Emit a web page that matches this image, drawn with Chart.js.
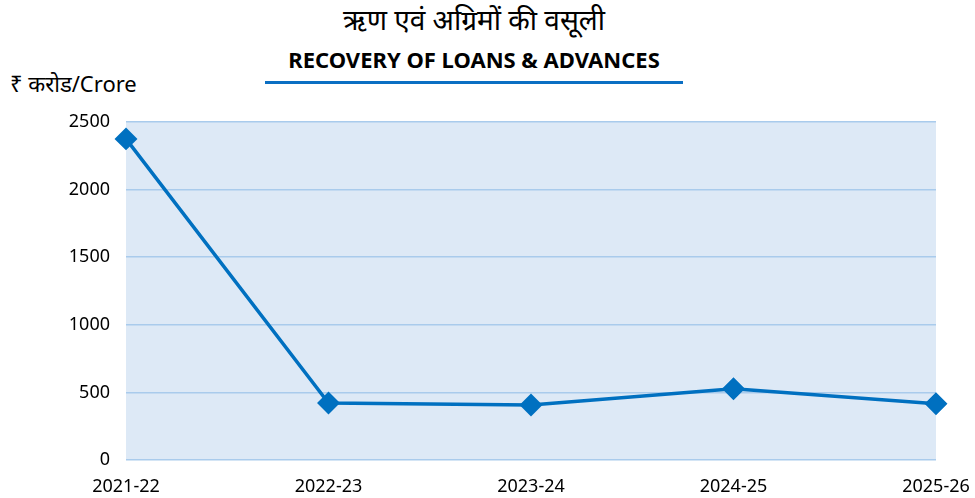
<!DOCTYPE html>
<html>
<head>
<meta charset="utf-8">
<script src="https://cdn.jsdelivr.net/npm/chart.js@4/dist/chart.umd.min.js"></script>
<style>
  html, body { margin: 0; padding: 0; background: #fff; }
  #wrap { position: relative; width: 975px; height: 498px; font-family: "Noto Sans", "Open Sans", sans-serif; color: #000; }
  #chartBox { position: absolute; left: 0; top: 0; width: 975px; height: 498px; }
  .title-hi { position: absolute; left: 0; width: 948px; top: 0px; text-align: center; font-size: 28px; }
  .title-en { position: absolute; left: 0; width: 948px; top: 44px; text-align: center; font-size: 22px; font-weight: bold; }
  .rule { position: absolute; left: 265px; width: 418px; top: 81px; height: 3px; background: #0b6fc3; }
  .unit { position: absolute; left: 10px; top: 68px; font-size: 22px; }
</style>
</head>
<body>
<div id="wrap">
  <div class="title-hi">ऋण एवं अग्रिमों की वसूली</div>
  <div class="title-en">RECOVERY OF LOANS &amp; ADVANCES</div>
  <div class="rule"></div>
  <div class="unit">₹ करोड/Crore</div>
  <div id="chartBox"><canvas id="chart"></canvas></div>
</div>
<script>
// 年度と回収額（₹ crore）
const years = ['2021-22', '2022-23', '2023-24', '2024-25', '2025-26'];
const recovery = [2375, 421, 407, 527, 416];
const yTicks = [0, 500, 1000, 1500, 2000, 2500];

const lineBlue = '#0070c0';
const tickFont = { family: 'Noto Sans', size: 18 };

// プロット領域の背景色
const areaFill = {
    id: 'areaFill',
    beforeDraw(chart) {
        const { ctx, chartArea: a } = chart;
        ctx.save();
        ctx.fillStyle = '#dde9f6';
        ctx.fillRect(a.left, a.top, a.right - a.left, a.bottom - a.top);
        ctx.restore();
    }
};

new Chart(document.getElementById('chart'), {
    type: 'line',
    data: {
        labels: years,
        datasets: [{
            data: recovery,
            borderColor: lineBlue,
            backgroundColor: lineBlue,
            borderWidth: 3.5,
            pointStyle: 'rectRot',
            pointRadius: 9,
            pointHoverRadius: 9,
            tension: 0
        }]
    },
    options: {
        responsive: true,
        maintainAspectRatio: false,
        animation: false,
        layout: { padding: { top: 122, left: 0, right: 39, bottom: 0 } },
        plugins: { legend: { display: false }, tooltip: { enabled: false } },
        scales: {
            x: {
                offset: false,
                grid: { display: false },
                border: { display: false },
                afterFit: (axis) => { axis.height = 38; axis.paddingLeft = 0; axis.paddingRight = 0; },
                ticks: { color: '#000', font: tickFont, padding: 8, maxRotation: 0 }
            },
            y: {
                min: 0,
                max: 2500,
                afterBuildTicks: (axis) => { axis.ticks = yTicks.map(v => ({ value: v })); },
                afterFit: (axis) => { axis.width = 126; },
                grid: { color: '#a9cbec', lineWidth: 1.5, drawTicks: false },
                border: { display: false },
                ticks: { color: '#000', font: tickFont, padding: 16, callback: (v) => String(v) }
            }
        }
    },
    plugins: [areaFill]
});
</script>
</body>
</html>
